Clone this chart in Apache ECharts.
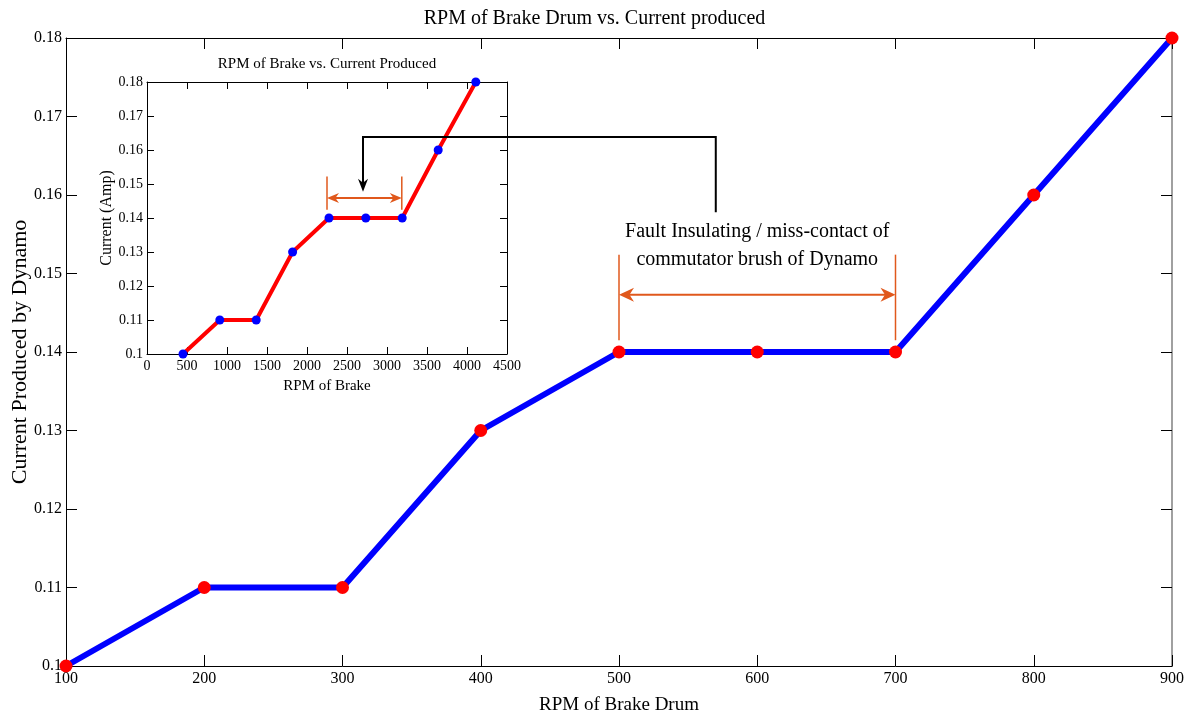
<!DOCTYPE html>
<html><head><meta charset="utf-8">
<script src="https://cdn.jsdelivr.net/npm/echarts@6/dist/echarts.min.js"></script>
<style>html,body{margin:0;padding:0;background:#fff}#c{width:1189px;height:717px}</style>
</head><body><div id="c"></div>
<script>
// ---- data ----
const mainRPM = [100, 200, 300, 400, 500, 600, 700, 800, 900];
const mainCurrent = [0.10, 0.11, 0.11, 0.13, 0.14, 0.14, 0.14, 0.16, 0.18];
const insetRPM = [450, 910, 1365, 1820, 2275, 2735, 3190, 3640, 4110];
const insetCurrent = [0.10, 0.11, 0.11, 0.13, 0.14, 0.14, 0.14, 0.16, 0.18];
const mainTitle = 'RPM of Brake Drum vs. Current produced';
const insetTitle = 'RPM of Brake vs. Current Produced';
const annotLine1 = 'Fault Insulating / miss-contact of';
const annotLine2 = 'commutator brush of Dynamo';

const FF = '"Liberation Serif", "Times New Roman", serif';
const ORANGE = '#e0581c';

const chart = echarts.init(document.getElementById('c'), null, {renderer: 'canvas'});

function mkX(grid, min, max, interval, pos, showLabels, lineColor, tickLen, fs, name, nameGap) {
  return {
    type: 'value', gridIndex: grid, min: min, max: max, interval: interval, position: pos,
    axisLine: {show: true, onZero: false, lineStyle: {color: lineColor, width: 1}},
    axisTick: {show: true, inside: true, length: tickLen, lineStyle: {color: '#000'}},
    axisLabel: {show: showLabels, color: '#000', fontFamily: FF, fontSize: fs, margin: 5,
      formatter: v => String(v)},
    splitLine: {show: false},
    name: name || '', nameLocation: 'middle', nameGap: nameGap || 0, nameMoveOverlap: false,
    nameTextStyle: {color: '#000', fontFamily: FF, fontSize: name ? (grid === 0 ? 19 : 15) : 12}
  };
}
function mkY(grid, min, max, interval, pos, showLabels, lineColor, tickLen, fs, name, nameGap, nfs) {
  return {
    type: 'value', gridIndex: grid, min: min, max: max, interval: interval, position: pos,
    axisLine: {show: true, onZero: false, lineStyle: {color: lineColor, width: lineColor === '#000' ? 1 : 2}},
    axisTick: {show: true, inside: true, length: tickLen, lineStyle: {color: '#000'}},
    axisLabel: {show: showLabels, color: '#000', fontFamily: FF, fontSize: fs, margin: 4,
      formatter: v => String(Math.round(v * 1000) / 1000)},
    splitLine: {show: false},
    name: name || '', nameLocation: 'middle', nameGap: nameGap || 0, nameRotate: 90, nameMoveOverlap: false,
    nameTextStyle: {color: '#000', fontFamily: FF, fontSize: nfs || 12}
  };
}

const option = {
  backgroundColor: '#fff',
  animation: false,
  title: {text: mainTitle, left: 'center', top: 4,
    textStyle: {fontFamily: FF, fontSize: 20, fontWeight: 'normal', color: '#000'}},
  grid: [
    {left: 66, right: 17, top: 38, bottom: 51, outerBoundsMode: 'none', containLabel: false},
    {left: 147, width: 360, top: 82, height: 272, show: true, backgroundColor: '#fff', borderWidth: 0,
      outerBoundsMode: 'none', containLabel: false}
  ],
  xAxis: [
    mkX(0, 100, 900, 100, 'bottom', true, '#000', 11, 16, 'RPM of Brake Drum', 30),
    mkX(0, 100, 900, 100, 'top', false, '#000', 11, 16),
    mkX(1, 0, 4500, 500, 'bottom', true, '#000', 7, 14, 'RPM of Brake', 25),
    mkX(1, 0, 4500, 500, 'top', false, '#000', 7, 14)
  ],
  yAxis: [
    mkY(0, 0.1, 0.18, 0.01, 'left', true, '#000', 11, 16, 'Current Produced by Dynamo', 35, 22),
    mkY(0, 0.1, 0.18, 0.01, 'right', false, '#a0a0a0', 11, 16),
    mkY(1, 0.1, 0.18, 0.01, 'left', true, '#000', 7, 14, 'Current (Amp)', 32, 16),
    mkY(1, 0.1, 0.18, 0.01, 'right', false, '#000', 7, 14)
  ],
  series: [
    {type: 'line', xAxisIndex: 0, yAxisIndex: 0, clip: false,
      data: mainRPM.map((x, i) => [x, mainCurrent[i]]),
      lineStyle: {color: '#0000ff', width: 6},
      symbol: 'circle', symbolSize: 13, showAllSymbol: true,
      itemStyle: {color: '#ff0000', borderWidth: 0}, z: 3},
    {type: 'line', xAxisIndex: 2, yAxisIndex: 2, clip: false,
      data: insetRPM.map((x, i) => [x, insetCurrent[i]]),
      lineStyle: {color: '#ff0000', width: 4},
      symbol: 'circle', symbolSize: 9, showAllSymbol: true,
      itemStyle: {color: '#0000ff', borderWidth: 0}, z: 10}
  ]
};
chart.setOption(option);

// ---- annotations anchored to data coordinates ----
const P0 = (x, y) => chart.convertToPixel({gridIndex: 0}, [x, y]);
const P1 = (x, y) => chart.convertToPixel({gridIndex: 1}, [x, y]);

function arrowHead(tip, dir, L, h, color) {
  const [tx, ty] = tip, [dx, dy] = dir;
  const bx = tx - dx * L, by = ty - dy * L;
  const nx = -dy, ny = dx;
  const mx = tx - dx * L * 0.7, my = ty - dy * L * 0.7;
  return {type: 'polygon', z: 200,
    shape: {points: [[tx, ty], [bx + nx * h, by + ny * h], [mx, my], [bx - nx * h, by - ny * h]]},
    style: {fill: color}};
}
function line(a, b, color, w) {
  return {type: 'line', z: 200, shape: {x1: a[0], y1: a[1], x2: b[0], y2: b[1]},
    style: {stroke: color, lineWidth: w}};
}
function doubleArrow(xa, xb, y, y0, y1, P, L, h, w) {
  const a = P(xa, y), b = P(xb, y);
  return [
    line(P(xa, y0), P(xa, y1), ORANGE, 1.5),
    line(P(xb, y0), P(xb, y1), ORANGE, 1.5),
    line([a[0] + 3, a[1]], [b[0] - 3, b[1]], ORANGE, w),
    arrowHead(a, [-1, 0], L, h, ORANGE),
    arrowHead(b, [1, 0], L, h, ORANGE)
  ];
}

const g = [];
g.push(...doubleArrow(500, 700, 0.1473, 0.1415, 0.1524, P0, 15, 7, 2));
g.push(...doubleArrow(2250, 3185, 0.1459, 0.1424, 0.1522, P1, 12, 5, 2));
const c0 = P0(570, 0.1578), c1 = P0(570, 0.1674);
const tip = P1(2700, 0.1477);
g.push({type: 'polyline', z: 200,
  shape: {points: [c0, c1, [tip[0], c1[1]], [tip[0], tip[1] - 8]]},
  style: {stroke: '#000', lineWidth: 2, fill: null}});
g.push(arrowHead(tip, [0, 1], 13, 5, '#000'));
const t1 = P0(600, 0.1553), t2 = P0(600, 0.1517);
[[annotLine1, t1], [annotLine2, t2]].forEach(([txt, p]) => {
  g.push({type: 'text', z: 200, x: p[0], y: p[1],
    style: {text: txt, fill: '#000', font: '20px ' + FF, textAlign: 'center', textVerticalAlign: 'middle'}});
});
const it = P1(2250, 0.1853);
g.push({type: 'text', z: 200, x: it[0], y: it[1],
  style: {text: insetTitle, fill: '#000', font: '15px ' + FF, textAlign: 'center', textVerticalAlign: 'middle'}});

chart.setOption({graphic: g});
</script>
</body></html>
